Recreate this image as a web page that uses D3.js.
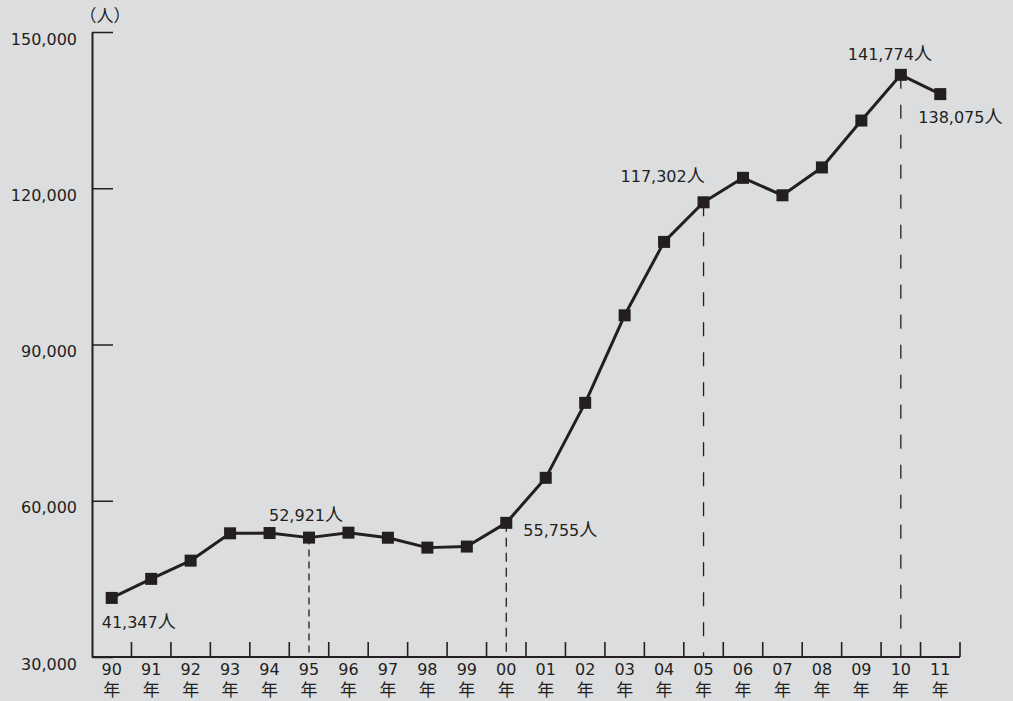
<!DOCTYPE html>
<html>
<head>
<meta charset="utf-8">
<script src="https://cdn.jsdelivr.net/npm/d3@7"></script>
<style>
  html, body { margin: 0; padding: 0; background: #dcdddf; }
  svg { display: block; font-family: "DejaVu Sans", "Noto Sans CJK JP", sans-serif; }
</style>
</head>
<body>
<svg id="chart" width="1013" height="701"></svg>
<script>
// data
var years = ["90", "91", "92", "93", "94", "95", "96", "97", "98", "99", "00",
             "01", "02", "03", "04", "05", "06", "07", "08", "09", "10", "11"];
var people = [41347, 45000, 48500, 53750, 53800, 52921, 53870, 52900, 51000, 51200, 55755,
              64400, 78800, 95600, 109700, 117302, 122000, 118650, 124000, 133000, 141774, 138075];
var yTicks = [30000, 60000, 90000, 120000, 150000];
var labelledYears = ["90", "95", "00", "05", "10", "11"];
var guideYears = ["95", "00", "05", "10"];

var ink = "#231f20";

function generateChart() {
    var svg = d3.select("#chart");

    var x = d3.scaleBand().domain(years).range([92, 960]);
    var y = d3.scaleLinear().domain([30000, 150000]).range([657, 32]);
    var fmt = d3.format(",");

    // dashed guide lines from the point down to the axis
    var dashes = { "95": "7,5", "00": "9,6", "05": "14,16", "10": "14,16" };
    svg.append("g")
        .selectAll("line")
        .data(guideYears)
        .enter()
        .append("line")
        .attr("x1", d => x(d) + x.bandwidth() / 2)
        .attr("x2", d => x(d) + x.bandwidth() / 2)
        .attr("y1", d => y(people[years.indexOf(d)]))
        .attr("y2", y(30000))
        .attr("stroke", ink)
        .attr("stroke-width", 1.3)
        .attr("stroke-dasharray", d => dashes[d]);

    // y axis: ticks point inward, labels on the left
    let yAxis = svg.append("g")
        .attr("transform", "translate(92,0)")
        .call(d3.axisLeft(y).tickValues(yTicks).tickFormat(fmt)
            .tickSizeInner(-21).tickSizeOuter(0).tickPadding(15));
    yAxis.select(".domain").attr("stroke", ink).attr("stroke-width", 2);
    yAxis.selectAll(".tick line").attr("stroke", ink).attr("stroke-width", 1.5);
    yAxis.selectAll(".tick text")
        .attr("fill", ink)
        .attr("font-size", 16)
        .attr("font-family", "DejaVu Sans, sans-serif")
        .attr("dy", "0.32em")
        .attr("transform", "translate(0,7)");

    svg.append("text")
        .attr("x", 105)
        .attr("y", 22)
        .attr("text-anchor", "middle")
        .attr("font-size", 17)
        .attr("font-family", "Noto Sans CJK JP")
        .attr("fill", ink)
        .text("（人）");

    // x axis
    svg.append("line")
        .attr("x1", 92).attr("x2", 960)
        .attr("y1", y(30000)).attr("y2", y(30000))
        .attr("stroke", ink)
        .attr("stroke-width", 2);

    svg.append("g")
        .selectAll("line")
        .data(years)
        .enter()
        .append("line")
        .attr("x1", d => x(d) + x.bandwidth())
        .attr("x2", d => x(d) + x.bandwidth())
        .attr("y1", y(30000) - 15)
        .attr("y2", y(30000))
        .attr("stroke", ink)
        .attr("stroke-width", 1.6);

    // year digits and 年 as two separate rows
    svg.append("g")
        .selectAll("text")
        .data(years)
        .enter()
        .append("text")
        .attr("x", d => x(d) + x.bandwidth() / 2)
        .attr("y", 675)
        .attr("text-anchor", "middle")
        .attr("fill", ink)
        .attr("font-size", 16)
        .text(d => d);
    svg.append("g")
        .selectAll("text")
        .data(years)
        .enter()
        .append("text")
        .attr("x", d => x(d) + x.bandwidth() / 2)
        .attr("y", 696)
        .attr("text-anchor", "middle")
        .attr("fill", ink)
        .attr("font-size", 17)
        .text("年");

    // the series
    let line = d3.line()
        .x((d, i) => x(years[i]) + x.bandwidth() / 2)
        .y(d => y(d));

    svg.append("path")
        .attr("d", line(people))
        .attr("fill", "none")
        .attr("stroke", ink)
        .attr("stroke-width", 3)
        .attr("stroke-linejoin", "round");

    svg.append("g")
        .selectAll("rect")
        .data(people)
        .enter()
        .append("rect")
        .attr("x", (d, i) => x(years[i]) + x.bandwidth() / 2 - 6)
        .attr("y", d => y(d) - 6)
        .attr("width", 12)
        .attr("height", 12)
        .attr("fill", ink);

    // value labels
    var offsets = {
        "90": { dx: -10, dy: 30 },
        "95": { dx: -40, dy: -17 },
        "00": { dx: 17, dy: 13 },
        "05": { dx: -83, dy: -20 },
        "10": { dx: -53, dy: -15 },
        "11": { dx: -22, dy: 29 }
    };
    let notes = svg.append("g")
        .selectAll("text")
        .data(labelledYears)
        .enter()
        .append("text")
        .attr("x", d => x(d) + x.bandwidth() / 2 + offsets[d].dx)
        .attr("y", d => y(people[years.indexOf(d)]) + offsets[d].dy)
        .attr("fill", ink)
        .attr("font-size", 16);
    notes.append("tspan").text(d => fmt(people[years.indexOf(d)]));
    notes.append("tspan")
        .attr("font-size", 18)
        .attr("font-family", "Noto Sans CJK JP")
        .text("人");
}

generateChart();
</script>
</body>
</html>
